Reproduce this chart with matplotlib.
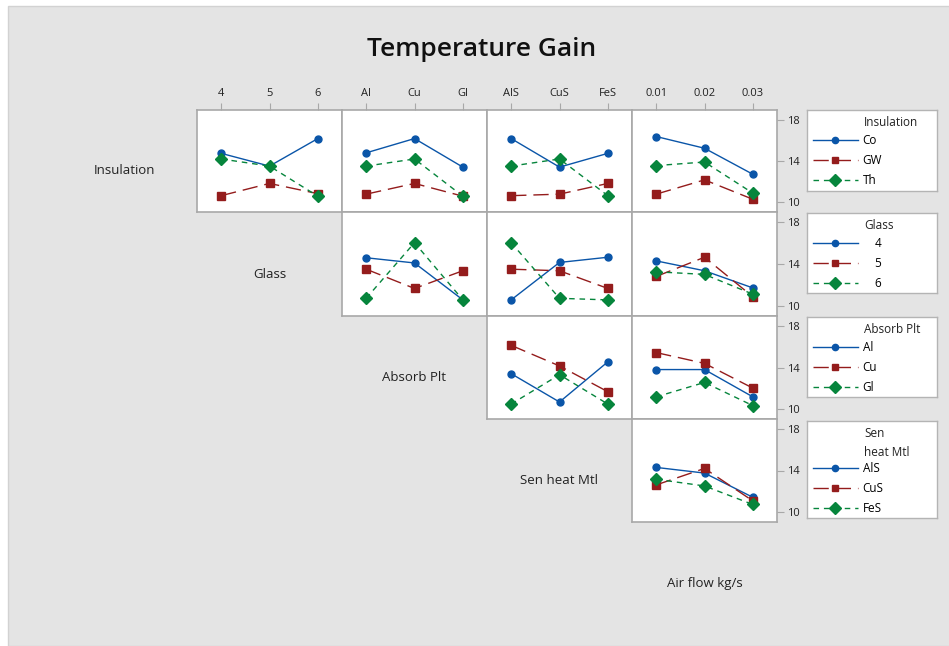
import numpy as np
import matplotlib.pyplot as plt
from matplotlib.lines import Line2D
from matplotlib.patches import Rectangle

plt.rcParams.update({'font.family': ['Open Sans', 'DejaVu Sans'], 'font.size': 8})

# factors and their levels
factor_names = ['Insulation', 'Glass', 'Absorb Plt', 'Sen heat Mtl', 'Air flow kg/s']
legend_titles = ['Insulation', 'Glass', 'Absorb Plt', 'Sen\nheat Mtl']
levels = [['Co', 'GW', 'Th'],
          ['4', '5', '6'],
          ['Al', 'Cu', 'Gl'],
          ['AlS', 'CuS', 'FeS'],
          ['0.01', '0.02', '0.03']]
legend_labels = [['Co', 'GW', 'Th'],
                 ['    4', '    5', '    6'],
                 ['Al', 'Cu', 'Gl'],
                 ['AlS', 'CuS', 'FeS']]

# mean temperature gain: rows = trace factor level, cols = x factor level
ins_glass = [[14.75, 13.5, 16.2], [10.6, 11.8, 10.8], [14.2, 13.5, 10.55]]
ins_absorb = [[14.8, 16.2, 13.4], [10.75, 11.8, 10.55], [13.5, 14.2, 10.55]]
ins_senheat = [[16.2, 13.4, 14.75], [10.6, 10.75, 11.8], [13.5, 14.2, 10.6]]
ins_airflow = [[16.4, 15.25, 12.7], [10.75, 12.15, 10.25], [13.55, 13.9, 10.85]]
glass_absorb = [[14.6, 14.1, 10.55], [13.5, 11.65, 13.35], [10.7, 16.05, 10.55]]
glass_senheat = [[10.55, 14.15, 14.65], [13.5, 13.35, 11.65], [16.05, 10.7, 10.55]]
glass_airflow = [[14.3, 13.35, 11.7], [12.8, 14.65, 10.85], [13.25, 13.0, 11.1]]
absorb_senheat = [[13.4, 10.65, 14.55], [16.15, 14.15, 11.65], [10.45, 13.3, 10.45]]
absorb_airflow = [[13.8, 13.8, 11.15], [15.45, 14.4, 12.0], [11.15, 12.55, 10.3]]
senheat_airflow = [[14.3, 13.75, 11.4], [12.6, 14.2, 11.05], [13.15, 12.5, 10.7]]

panels = {(0, 1): ins_glass, (0, 2): ins_absorb, (0, 3): ins_senheat, (0, 4): ins_airflow,
          (1, 2): glass_absorb, (1, 3): glass_senheat, (1, 4): glass_airflow,
          (2, 3): absorb_senheat, (2, 4): absorb_airflow,
          (3, 4): senheat_airflow}

colors = ['#0a55a8', '#941c1c', '#06853c']
markers = ['o', 's', 'D']
msizes = [5, 5.5, 6.3]
styles = ['-', (0, (11, 5)), (0, (4, 3.5))]

W, H = 949, 646
fig = plt.figure(figsize=(W / 100, H / 100), dpi=100)
fig.patch.set_facecolor('white')
fig.add_artist(Rectangle((8 / W, 0), 1, 1 - 6 / H, transform=fig.transFigure,
                         facecolor='#e4e4e4', edgecolor='#d2d2d2', lw=1, zorder=-10))

col_edges = [52, 197, 342, 487, 632, 777]
row_edges = [110, 212, 316, 419, 522, 625]
grid_c = '#a8a8a8'


def px_axes(x0, y0, x1, y1):
    return fig.add_axes([x0 / W, 1 - y1 / H, (x1 - x0) / W, (y1 - y0) / H])


fig.text(482 / W, 1 - 50 / H, 'Temperature Gain', ha='center', va='center',
         fontsize=19, weight='semibold', color='#111111')

# diagonal labels
for k, name in enumerate(factor_names):
    cx = (col_edges[k] + col_edges[k + 1]) / 2
    cy = (row_edges[k] + row_edges[k + 1]) / 2 + 10
    fig.text(cx / W, 1 - cy / H, name, ha='center', va='center', fontsize=9.5, color='#222222')

x = np.arange(1, 4)
for (i, j), means in panels.items():
    ax = px_axes(col_edges[j], row_edges[i], col_edges[j + 1], row_edges[i + 1])
    for k in range(3):
        ax.plot(x, means[k], color=colors[k], marker=markers[k], ms=msizes[k],
                ls=styles[k], lw=1, mec=colors[k])
    ax.set_xlim(0.5, 3.5)
    ax.set_ylim(9, 19)
    for s in ax.spines.values():
        s.set_color(grid_c)
        s.set_linewidth(1.2)
    if i == 0:
        ax.xaxis.tick_top()
        ax.set_xticks(x, levels[j])
        ax.tick_params(axis='x', length=5, color=grid_c, labelsize=8, pad=3, labelcolor='#222222')
    else:
        ax.set_xticks([])
    if j == 4:
        ax.yaxis.tick_right()
        ax.set_yticks([10, 14, 18])
        ax.tick_params(axis='y', length=5, color=grid_c, labelsize=8, pad=2, labelcolor='#222222')
    else:
        ax.set_yticks([])

# legends
legend_boxes = [(110, 191), (213, 293), (317, 397), (421, 518)]
for k, (y0, y1) in enumerate(legend_boxes):
    lax = px_axes(807, y0, 937, y1)
    lax.set_xticks([])
    lax.set_yticks([])
    for s in lax.spines.values():
        s.set_color('#b4b4b4')
        s.set_linewidth(1)
    lax.text((864 - 807) / 130, 1 - 6 / (y1 - y0), legend_titles[k], ha='left', va='top',
             fontsize=8.5, color='#222222', transform=lax.transAxes, linespacing=1.55)
    handles = [Line2D([], [], color=colors[m], marker=markers[m], ms=msizes[m] - 0.5,
                      ls=styles[m], lw=1) for m in range(3)]
    ntitle = legend_titles[k].count('\n') + 1
    top = 1 - (7 + 17 * ntitle) / (y1 - y0)
    lax.legend(handles, legend_labels[k], loc='upper left', bbox_to_anchor=(6 / 130, top),
               frameon=False, borderpad=0, borderaxespad=0, handlelength=3.8,
               handletextpad=0.4, labelspacing=0.6, fontsize=8.5, numpoints=1)

fig.savefig('out.png', dpi=100)
